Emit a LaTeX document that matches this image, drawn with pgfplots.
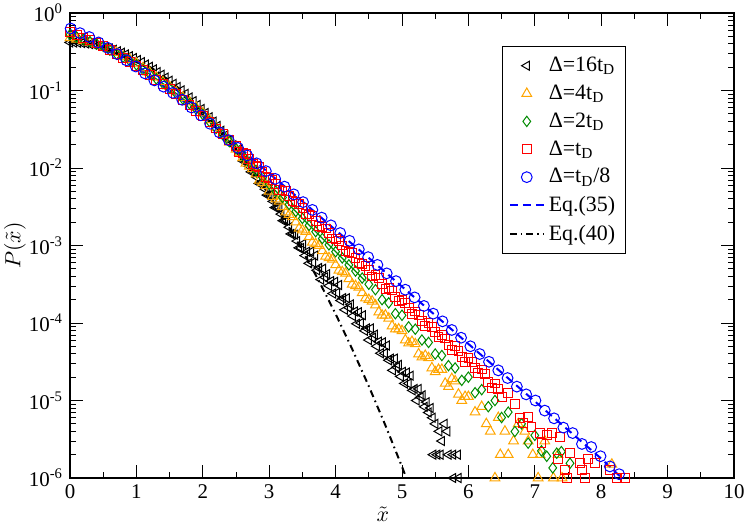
\documentclass[border=0pt]{standalone}
\usepackage{fontspec}
\setmainfont{Liberation Serif}
\usepackage{pgfplots}
\pgfplotsset{compat=1.18}
\definecolor{xorange}{RGB}{255,165,0}
\definecolor{xgreen}{RGB}{0,139,0}
\begin{document}
\begin{tikzpicture}
\useasboundingbox (-35bp,-24.5bp) rectangle (338.5bp,239bp);
\begin{axis}[
  at={(0,0)}, anchor=south west,
  scale only axis, width=332bp, height=232.5bp,
  xmin=0, xmax=10, ymin=1e-6, ymax=1, ymode=log,
  /pgf/number format/assume math mode=true,
  xtick={0,1,2,3,4,5,6,7,8,9,10}, minor x tick num=1,
  ytick={1e-6,1e-5,1e-4,1e-3,1e-2,1e-1,1},
  yticklabels={10\textsuperscript{-6},10\textsuperscript{-5},10\textsuperscript{-4},10\textsuperscript{-3},10\textsuperscript{-2},10\textsuperscript{-1},10\textsuperscript{0}},
  minor ytick={2e-6,3e-6,4e-6,5e-6,6e-6,7e-6,8e-6,9e-6,2e-5,3e-5,4e-5,5e-5,6e-5,7e-5,8e-5,9e-5,2e-4,3e-4,4e-4,5e-4,6e-4,7e-4,8e-4,9e-4,2e-3,3e-3,4e-3,5e-3,6e-3,7e-3,8e-3,9e-3,0.02,0.03,0.04,0.05,0.06,0.07,0.08,0.09,0.2,0.3,0.4,0.5,0.6,0.7,0.8,0.9},
  tick align=inside, major tick length=6.5bp, minor tick length=3.2bp,
  every tick/.style={black, line width=0.5bp},
  axis line style={line width=0.6bp},
  ticklabel style={font=\fontsize{10.5}{12}\selectfont},
  xlabel={$\tilde{x}$}, ylabel={$P(\tilde{x})$},
  every axis x label/.style={at={(axis description cs:0.471,-0.077)}, anchor=center, font=\fontsize{11}{13}\selectfont},
  every axis y label/.style={at={(axis description cs:-0.0828,0.5)}, anchor=center, rotate=90, font=\fontsize{11}{13}\selectfont},
  legend style={at={(0.651,0.928)}, anchor=north west, draw=black, line width=0.5bp, fill=white, font=\fontsize{11}{13}\selectfont, row sep=1.2bp, inner xsep=3bp, inner ysep=3bp},
  legend cell align=left,
  every axis plot/.append style={line width=0.5bp},
]
% Delta = 16 t_D
\addplot[only marks, mark=triangle, mark size=2.6bp, mark options={rotate=90, black}] table {
x y
0.00 0.417
0.06 0.416
0.12 0.414
0.18 0.410
0.24 0.405
0.30 0.398
0.36 0.391
0.42 0.381
0.48 0.372
0.54 0.360
0.60 0.348
0.66 0.335
0.72 0.321
0.78 0.307
0.84 0.292
0.90 0.277
0.96 0.262
1.02 0.247
1.08 0.232
1.14 0.216
1.20 0.202
1.26 0.187
1.32 0.173
1.38 0.160
1.44 0.147
1.50 0.134
1.56 0.122
1.62 0.111
1.68 0.1005
1.74 0.0906
1.80 0.0813
1.86 0.0728
1.92 0.0650
1.98 0.0577
2.04 0.0512
2.10 0.0451
2.16 0.0396
2.22 0.0348
2.28 0.0303
2.34 0.0264
2.40 0.0229
2.46 0.0197
2.52 0.0169
2.55 0.0174
2.58 0.0145
2.61 0.0123
2.64 0.0124
2.67 0.0120
2.70 0.0105
2.73 0.00891
2.76 0.00895
2.79 0.00912
2.82 0.00755
2.85 0.00631
2.88 0.00637
2.91 0.00646
2.94 0.00533
2.97 0.00447
3.00 0.00446
3.03 0.00447
3.06 0.00371
3.09 0.00309
3.12 0.00308
3.15 0.00309
3.18 0.00254
3.21 0.00209
3.24 0.00209
3.27 0.00209
3.30 0.00172
3.33 0.00141
3.36 0.00141
3.39 0.00138
3.42 0.00114
3.45 9.33e-4
3.48 9.29e-4
3.51 1.05e-3
3.54 7.41e-4
3.57 8.32e-4
3.60 5.89e-4
3.63 8.32e-4
3.66 6.03e-4
3.69 7.41e-4
3.72 4.79e-4
3.75 5.13e-4
3.78 3.63e-4
3.81 5.01e-4
3.84 3.89e-4
3.87 4.27e-4
3.90 3.02e-4
3.93 3.47e-4
3.96 2.40e-4
3.99 3.39e-4
4.02 2.45e-4
4.05 3.09e-4
4.08 1.95e-4
4.11 2.09e-4
4.14 1.48e-4
4.17 2.09e-4
4.20 1.58e-4
4.23 1.74e-4
4.26 1.23e-4
4.29 1.41e-4
4.32 9.77e-5
4.35 1.38e-4
4.38 1.00e-4
4.41 1.26e-4
4.44 7.94e-5
4.47 8.51e-5
4.50 6.03e-5
4.53 8.51e-5
4.56 6.46e-5
4.59 7.08e-5
4.62 5.01e-5
4.65 5.75e-5
4.68 4.07e-5
4.71 5.62e-5
4.74 4.07e-5
4.77 5.13e-5
4.80 3.31e-5
4.83 3.47e-5
4.86 2.45e-5
4.89 3.47e-5
4.92 2.69e-5
4.95 2.88e-5
4.98 2.04e-5
5.01 2.34e-5
5.04 1.66e-5
5.07 2.29e-5
5.10 1.66e-5
5.13 2.09e-5
5.16 1.35e-5
5.19 1.41e-5
5.22 1.00e-5
5.25 1.41e-5
5.28 1.10e-5
5.31 1.17e-5
5.34 8.3e-6
5.37 9.5e-6
5.40 7e-6
5.43 8e-6
5.46 6e-6
5.50 5e-6
5.56 4e-6
5.60 3e-6
5.64 5e-6
5.68 4e-6
5.47 2e-6
5.53 2e-6
5.58 2e-6
5.70 2e-6
5.77 2e-6
5.84 2e-6
5.77 1e-6
5.85 1e-6
};
\addlegendentry{Δ=16t\textsubscript{D}}
% Delta = 4 t_D
\addplot[only marks, mark=triangle, mark size=2.8bp, mark options={xorange}] table {
x y
0.0 0.479
0.1 0.457
0.2 0.437
0.3 0.417
0.4 0.398
0.5 0.372
0.6 0.339
0.7 0.309
0.8 0.275
0.9 0.251
1.0 0.224
1.1 0.195
1.2 0.170
1.3 0.148
1.4 0.129
1.5 0.112
1.6 0.0955
1.7 0.0813
1.8 0.0708
1.9 0.0603
2.0 0.0513
2.1 0.0417
2.2 0.0331
2.3 0.0269
2.4 0.0214
2.5 0.0174
2.55 0.0158
2.6 0.0135
2.65 0.0115
2.7 0.0105
2.75 0.00977
2.8 0.00832
2.85 0.00692
2.9 0.00646
2.95 0.00589
3.0 0.00501
3.05 0.00427
3.1 0.00398
3.15 0.00372
3.2 0.00316
3.25 0.00269
3.3 0.00251
3.35 0.00234
3.4 0.00200
3.45 0.00166
3.5 0.00158
3.55 0.00151
3.6 0.00129
3.65 0.00110
3.7 0.00105
3.75 0.00100
3.8 8.51e-4
3.85 7.24e-4
3.9 6.92e-4
3.95 6.61e-4
4.0 5.62e-4
4.05 4.79e-4
4.1 4.57e-4
4.15 4.37e-4
4.2 3.72e-4
4.25 3.16e-4
4.3 3.02e-4
4.35 2.88e-4
4.4 2.45e-4
4.45 2.09e-4
4.5 2.00e-4
4.55 1.91e-4
4.6 1.70e-4
4.65 1.38e-4
4.7 1.26e-4
4.75 1.26e-4
4.8 1.15e-4
4.85 9.12e-5
4.9 8.32e-5
4.95 8.32e-5
5.0 7.94e-5
5.05 6.03e-5
5.1 5.50e-5
5.15 5.75e-5
5.2 5.37e-5
5.25 3.98e-5
5.3 3.63e-5
5.35 3.80e-5
5.4 3.55e-5
5.45 2.63e-5
5.5 2.34e-5
5.55 2.51e-5
5.6 2.51e-5
5.65 1.66e-5
5.7 1.51e-5
5.75 1.91e-5
5.8 1.78e-5
5.85 1.20e-5
5.9 1.00e-5
5.95 1.12e-5
6.0 1.12e-5
6.1 7.08e-6
6.2 8.32e-6
6.27 5e-6
6.33 4e-6
6.40 1e-6
6.45 6e-6
6.48 2e-6
6.55 4e-6
6.60 2e-6
6.68 3e-6
6.75 5e-6
6.85 4e-6
6.90 3e-6
6.97 2e-6
7.05 1e-6
7.08 2e-6
7.15 3e-6
7.28 1e-6
7.35 2e-6
7.41 1e-6
8.16 1.5e-6
};
\addlegendentry{Δ=4t\textsubscript{D}}
% Delta = 2 t_D (line)
\addplot[xgreen, line width=0.6bp, no marks, forget plot] table {
x y
0.0 0.525
0.5 0.372
1.0 0.214
1.5 0.107
2.0 0.0490
2.25 0.0295
2.5 0.0178
2.75 0.0105
3.0 0.00617
3.5 0.00224
4.0 8.32e-4
4.45 3.47e-4
};
% Delta = 2 t_D
\addplot[only marks, mark=diamond, mark size=2.6bp, mark options={xgreen}] table {
x y
0.0 0.525
0.1 0.490
0.2 0.457
0.3 0.427
0.4 0.398
0.5 0.372
0.6 0.331
0.7 0.295
0.8 0.269
0.9 0.240
1.0 0.214
1.1 0.186
1.2 0.162
1.3 0.141
1.4 0.123
1.5 0.107
1.6 0.0912
1.7 0.0776
1.8 0.0676
1.9 0.0575
2.0 0.0490
2.1 0.0398
2.2 0.0324
2.3 0.0269
2.4 0.0219
2.5 0.0178
2.6 0.0145
2.7 0.0117
2.8 0.00933
2.9 0.00759
3.0 0.00617
3.1 0.00501
3.2 0.00417
3.3 0.00339
3.4 0.00275
3.5 0.00224
3.6 0.00182
3.7 0.00151
3.8 0.00123
3.9 0.00102
4.0 8.32e-4
4.1 6.92e-4
4.2 5.62e-4
4.3 4.68e-4
4.4 3.80e-4
4.5 3.16e-4
4.6 2.69e-4
4.7 2.00e-4
4.8 1.82e-4
4.9 1.32e-4
5.0 1.26e-4
5.1 8.91e-5
5.2 8.32e-5
5.3 6.03e-5
5.4 5.62e-5
5.5 3.98e-5
5.6 3.80e-5
5.7 2.82e-5
5.8 2.63e-5
5.9 1.82e-5
6.0 2.00e-5
6.1 1.26e-5
6.2 1.38e-5
6.3 8.32e-6
6.4 1.00e-5
6.5 6.03e-6
6.6 7.08e-6
6.7 3.98e-6
6.8 5.01e-6
6.9 2.82e-6
7.0 3.55e-6
7.1 2.24e-6
7.18 1.91e-6
7.27 1.35e-6
7.33 2.09e-6
7.40 2.19e-6
7.53 1.55e-6
};
\addlegendentry{Δ=2t\textsubscript{D}}
% Delta = t_D
\addplot[only marks, mark=square, mark size=2.2bp, mark options={red}] table {
x y
0.0 0.575
0.1 0.525
0.2 0.479
0.3 0.447
0.4 0.407
0.5 0.372
0.6 0.331
0.7 0.295
0.8 0.263
0.9 0.234
1.0 0.209
1.1 0.182
1.2 0.158
1.3 0.138
1.4 0.120
1.5 0.105
1.6 0.0891
1.7 0.0759
1.8 0.0646
1.9 0.0550
2.0 0.0468
2.1 0.0389
2.2 0.0324
2.3 0.0275
2.4 0.0229
2.5 0.0191
2.55 0.0162
2.6 0.0158
2.65 0.0151
2.7 0.0132
2.75 0.0112
2.8 0.0107
2.85 0.0102
2.9 0.00891
2.95 0.00759
3.0 0.00741
3.05 0.00708
3.1 0.00617
3.15 0.00525
3.2 0.00513
3.25 0.00501
3.3 0.00437
3.35 0.00372
3.4 0.00363
3.45 0.00347
3.5 0.00302
3.55 0.00257
3.6 0.00251
3.65 0.00240
3.7 0.00209
3.75 0.00178
3.8 0.00174
3.85 0.00166
3.9 0.00145
3.95 0.00123
4.0 0.00120
4.05 0.00115
4.1 0.00100
4.15 8.51e-4
4.2 8.32e-4
4.25 7.94e-4
4.3 6.92e-4
4.35 5.89e-4
4.4 5.75e-4
4.45 5.50e-4
4.5 4.79e-4
4.55 3.98e-4
4.6 4.17e-4
4.65 3.80e-4
4.7 3.16e-4
4.75 2.75e-4
4.8 2.82e-4
4.85 2.63e-4
4.9 2.19e-4
4.95 1.91e-4
5.0 2.00e-4
5.05 1.82e-4
5.1 1.55e-4
5.15 1.32e-4
5.2 1.41e-4
5.25 1.26e-4
5.3 1.05e-4
5.35 9.12e-5
5.4 1.00e-4
5.45 8.91e-5
5.5 7.59e-5
5.55 6.61e-5
5.6 7.08e-5
5.65 6.31e-5
5.7 5.25e-5
5.75 4.47e-5
5.8 5.01e-5
5.85 4.37e-5
5.9 3.63e-5
5.95 3.16e-5
6.0 3.55e-5
6.05 3.16e-5
6.1 2.63e-5
6.15 2.24e-5
6.2 2.51e-5
6.25 2.19e-5
6.3 1.74e-5
6.35 1.45e-5
6.4 1.66e-5
6.45 1.41e-5
6.5 1.12e-5
6.6 1.26e-5
6.7 8.91e-6
6.78 5.89e-6
6.82 5.13e-6
6.90 6.17e-6
6.95 4.57e-6
7.08 3.80e-6
7.10 2.82e-6
7.18 3.55e-6
7.26 3.80e-6
7.35 1.78e-6
7.38 3.39e-6
7.45 1.26e-6
7.48 1.00e-6
7.53 2.09e-6
7.68 1.55e-6
7.71 1.26e-6
7.76 1.00e-6
7.80 1.78e-6
7.91 1.55e-6
8.13 1.26e-6
8.24 1.00e-6
8.36 1.00e-6
};
\addlegendentry{Δ=t\textsubscript{D}}
% Delta = t_D/8
\addplot[only marks, mark=o, mark size=2.7bp, mark options={blue}] table {
x y
0.01 0.631
0.15 0.550
0.29 0.490
0.43 0.417
0.57 0.355
0.71 0.295
0.85 0.245
0.99 0.204
1.13 0.166
1.27 0.135
1.41 0.112
1.55 0.0933
1.69 0.0759
1.83 0.0603
1.97 0.0479
2.11 0.0372
2.25 0.0288
2.39 0.0229
2.53 0.0182
2.67 0.0145
2.81 0.0115
2.95 0.00912
3.09 0.00724
3.23 0.00575
3.37 0.00457
3.51 0.00363
3.65 0.00288
3.79 0.00229
3.93 0.00182
4.07 0.00145
4.21 0.00115
4.35 8.91e-4
4.49 7.08e-4
4.63 5.62e-4
4.77 4.37e-4
4.91 3.47e-4
5.05 2.69e-4
5.19 2.14e-4
5.33 1.66e-4
5.47 1.32e-4
5.61 1.05e-4
5.75 8.13e-5
5.89 6.46e-5
6.03 5.01e-5
6.17 3.98e-5
6.31 3.16e-5
6.45 2.45e-5
6.59 1.95e-5
6.73 1.51e-5
6.87 1.20e-5
7.01 1.00e-5
7.15 7.41e-6
7.29 5.89e-6
7.43 4.47e-6
7.57 3.80e-6
7.71 2.75e-6
7.85 2.51e-6
7.99 1.91e-6
8.13 1.41e-6
8.27 1.12e-6
};
\addlegendentry{Δ=t\textsubscript{D}/8}
% Eq. (35)
\addplot[blue, line width=1bp, dash pattern=on 4bp off 2.5bp, no marks] table {
x y
0.0 0.603
0.5 0.389
1.0 0.200
1.5 0.100
2.0 0.0468
2.5 0.0200
3.0 0.00851
3.5 0.00372
4.0 0.00158
4.5 6.92e-4
5.0 2.95e-4
6.0 5.37e-5
7.0 9.77e-6
8.0 1.78e-6
8.3 1.02e-6
};
\addlegendentry{Eq.(35)}
% Eq. (40)
\addplot[black, line width=1bp, dash pattern=on 3.5bp off 2bp on 0.8bp off 2bp, no marks] table {
x y
0.00 0.417
0.25 0.404
0.50 0.367
0.75 0.314
1.00 0.252
1.25 0.190
1.50 0.134
1.75 0.0889
2.00 0.0555
2.25 0.0324
2.50 0.0178
2.75 0.00920
3.00 0.00446
3.25 0.00203
3.50 8.65e-4
3.75 3.47e-4
4.00 1.31e-4
4.25 4.61e-5
4.50 1.53e-5
4.75 4.78e-6
5.00 1.40e-6
5.10 8.3e-7
};
\addlegendentry{Eq.(40)}
\end{axis}
\end{tikzpicture}
\end{document}
